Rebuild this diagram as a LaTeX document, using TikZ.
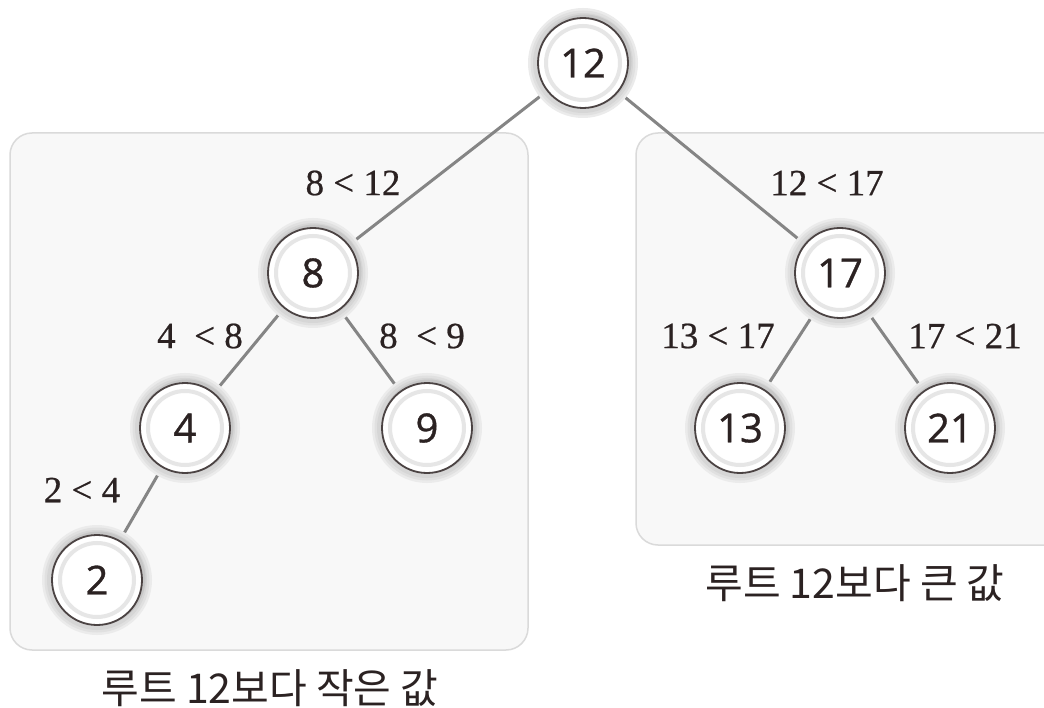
\documentclass[tikz,border=0pt]{standalone}
\usepackage{fontspec}
\setmainfont{Open Sans}
\newfontfamily\numf[FakeBold=0.9]{Open Sans}
\newfontfamily\lab[FakeBold=0.6]{Liberation Serif}
\newfontfamily\kr{Noto Sans CJK KR}
\definecolor{txt}{HTML}{2B2222}
\definecolor{boxfill}{HTML}{F8F8F8}
\definecolor{boxline}{HTML}{DADADA}
\definecolor{edgec}{HTML}{858585}
\definecolor{ringc}{HTML}{E6E6E6}
\tikzset{
  treenode/.style={circle, minimum size=90pt, inner sep=0pt, fill=white, draw=txt!85, line width=1.8pt,
    font=\numf\fontsize{40}{42}\selectfont, text=txt},
  edgeline/.style={draw=edgec, line width=3pt},
  cmplabel/.style={font=\lab\fontsize{37}{39}\selectfont, text=txt, inner sep=0pt},
  caption/.style={font=\kr\fontsize{41}{43}\selectfont, text=txt, inner sep=0pt},
  region/.style={draw=boxline, fill=boxfill, line width=1.5pt, rounded corners=22pt}
}
\begin{document}
\begin{tikzpicture}[x=1pt,y=-1pt]
\useasboundingbox (0,0) rectangle (1044,708);
\fill[white] (0,0) rectangle (1044,708);
\draw[region] (10,133) rectangle (528,650);
\draw[region] (636,133) rectangle (1070,545);
\coordinate (p12) at (583,63);
\coordinate (p8) at (313,273);
\coordinate (p4) at (185,428);
\coordinate (p9) at (427,428);
\coordinate (p2) at (97,580);
\coordinate (p17) at (840,273);
\coordinate (p13) at (740,428);
\coordinate (p21) at (950,428);
\draw[edgeline] (p12) -- (p8);
\draw[edgeline] (p12) -- (p17);
\draw[edgeline] (p8) -- (p4);
\draw[edgeline] (p8) -- (p9);
\draw[edgeline] (p4) -- (p2);
\draw[edgeline] (p17) -- (p13);
\draw[edgeline] (p17) -- (p21);
\foreach \p in {p12,p8,p4,p9,p2,p17,p13,p21}{
  \fill[black!8] (\p) circle (55pt);
  \fill[black!12] (\p) circle (52.5pt);
  \fill[black!16] (\p) circle (50pt);
  \fill[black!22] ([shift={(1.5pt,1.5pt)}]\p) circle (47pt);
}
\node[treenode] (n12) at (p12) {12};
\node[treenode] (n8) at (p8) {8};
\node[treenode] (n4) at (p4) {4};
\node[treenode] (n9) at (p9) {9};
\node[treenode] (n2) at (p2) {2};
\node[treenode] (n17) at (p17) {17};
\node[treenode] (n13) at (p13) {13};
\node[treenode] (n21) at (p21) {21};
\foreach \n in {n12,n8,n4,n9,n2,n17,n13,n21}{
  \draw[ringc, line width=4pt] (\n.center) circle (37pt);
}
\node[cmplabel] (l1) at (353,183) {8 < 12};
\node[cmplabel] (l2) at (827,183) {12 < 17};
\node[cmplabel] (l3) at (200,336) {4 \ < 8};
\node[cmplabel] (l4) at (422,336) {8 \ < 9};
\node[cmplabel] (l5) at (82,490) {2 < 4};
\node[cmplabel] (l6) at (718,336) {13 < 17};
\node[cmplabel] (l7) at (965,336) {17 < 21};
\node[caption] (c1) at (270,688) {루트 12보다 작은 값};
\node[caption] (c2) at (855,583) {루트 12보다 큰 값};
\end{tikzpicture}
\end{document}
